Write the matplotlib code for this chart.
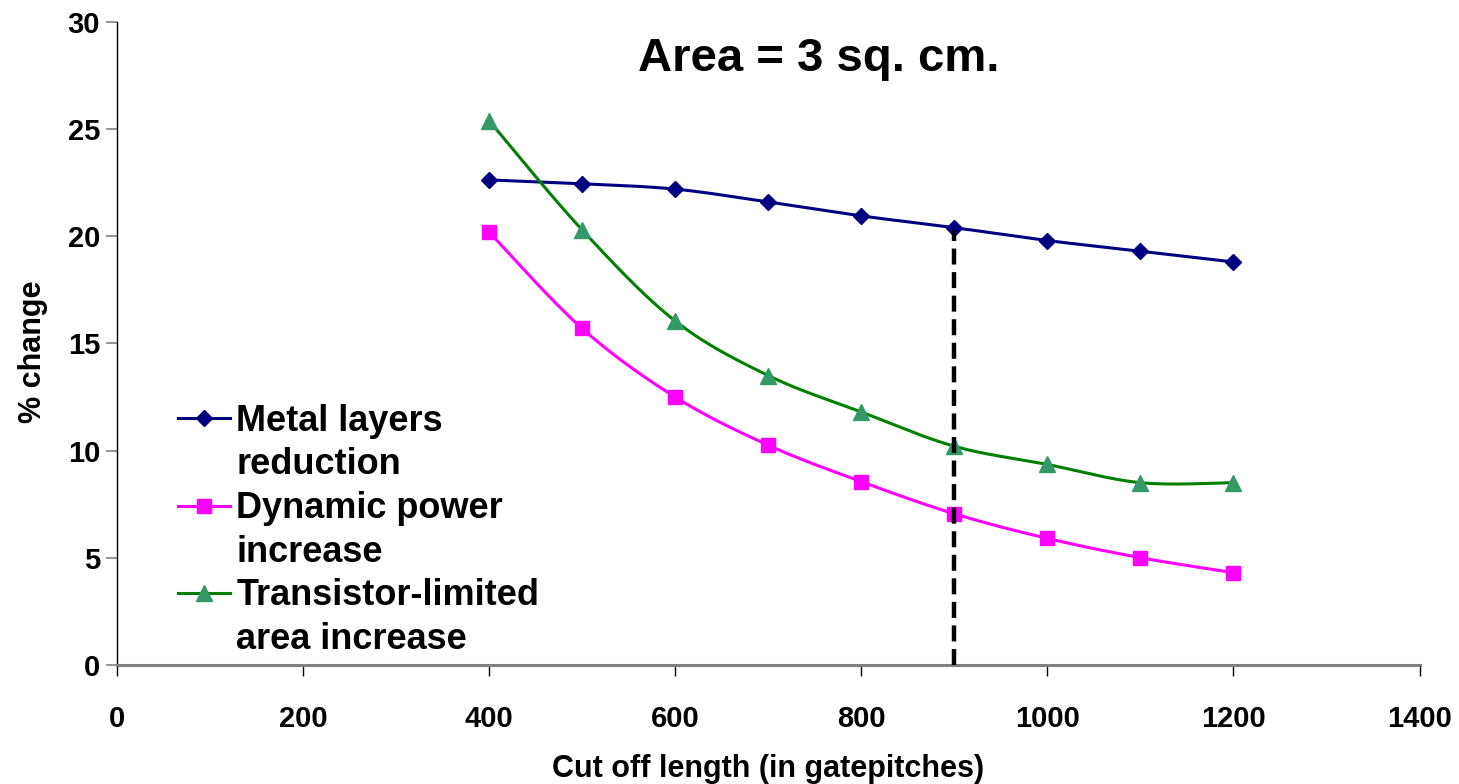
# coding:utf-8
# area = 3 sq. cm. : % change vs cut off length

import numpy as np
import matplotlib.pyplot as plt
from matplotlib.lines import Line2D

plt.rcParams['font.family'] = ['Liberation Sans', 'DejaVu Sans']
plt.rcParams['font.weight'] = 'bold'

cutoff = [400, 500, 600, 700, 800, 900, 1000, 1100, 1200]
metal = [22.63, 22.45, 22.2, 21.6, 20.95, 20.4, 19.8, 19.3, 18.8]
dynamic = [20.2, 15.7, 12.5, 10.25, 8.55, 7.05, 5.9, 5.0, 4.3]
transistor = [25.4, 20.3, 16.05, 13.5, 11.8, 10.2, 9.35, 8.5, 8.5]

cut_mark = 900
cut_top = 20.3

xticks = [0, 200, 400, 600, 800, 1000, 1200, 1400]
yticks = [0, 5, 10, 15, 20, 25, 30]


def smooth(xs, ys, n=30):
    # excel-like smoothed line (catmull-rom bezier)
    p = np.column_stack([xs, ys]).astype(float)
    p = np.vstack([p[0], p, p[-1]])
    out = []
    for i in range(1, len(p) - 2):
        p0, p1, p2, p3 = p[i-1], p[i], p[i+1], p[i+2]
        c1 = p1 + (p2 - p0) / 6.0
        c2 = p2 - (p3 - p1) / 6.0
        t = np.linspace(0, 1, n)[:, None]
        seg = (1-t)**3*p1 + 3*(1-t)**2*t*c1 + 3*(1-t)*t**2*c2 + t**3*p2
        out.append(seg if i == 1 else seg[1:])
    out = np.vstack(out)
    return out[:, 0], out[:, 1]


fig = plt.figure(figsize=(14.59, 7.84), dpi=100)
ax = fig.add_axes([0.080, 0.152, 0.893, 0.820])

series = [
    (metal, '#000080', '#000080', 'D', 8.0),
    (dynamic, '#FF00FF', '#FF00FF', 's', 10.5),
    (transistor, '#008000', '#339966', '^', 11.5),
]
for ys, lc, mc, mk, ms in series:
    sx, sy = smooth(cutoff, ys)
    ax.plot(sx, sy, color=lc, lw=2.2, zorder=3)
    ax.plot(cutoff, ys, ls='none', marker=mk, ms=ms, color=mc, zorder=4)

ax.plot([cut_mark, cut_mark], [0, cut_top], color='black', lw=3.2,
        dashes=(3.6, 1.7), zorder=5)

ax.set_xlim(0, 1400)
ax.set_ylim(0, 30)
ax.set_xticks(xticks)
ax.set_yticks(yticks)
for s in ['top', 'right']:
    ax.spines[s].set_visible(False)
ax.spines['bottom'].set_color('#808080')
ax.spines['bottom'].set_linewidth(2.2)
ax.spines['left'].set_linewidth(1.0)
ax.tick_params(axis='x', direction='out', length=8, width=1, colors='black',
               pad=21, labelsize=21)
ax.tick_params(axis='y', direction='out', length=8, width=1.2, color='#808080',
               labelcolor='black', pad=4, labelsize=21)

ax.set_xlabel('Cut off length (in gatepitches)', fontsize=22, fontweight='bold',
              labelpad=15)
ax.set_ylabel('% change', fontsize=22, fontweight='bold')
ax.yaxis.set_label_coords(-0.053, 0.487)
ax.text(754, 28.25, 'Area = 3 sq. cm.', fontsize=34, fontweight='bold',
        ha='center', va='center')

# legend, marker on first line of each label
blank = Line2D([], [], ls='none')
handles = [
    Line2D([], [], color='#000080', lw=2.2, marker='D', ms=8.0), blank,
    Line2D([], [], color='#FF00FF', lw=2.2, marker='s', ms=10.5), blank,
    Line2D([], [], color='#008000', lw=2.2, marker='^', ms=11.5,
           mfc='#339966', mec='#339966'), blank,
]
labels = ['Metal layers', 'reduction', 'Dynamic power', 'increase',
          'Transistor-limited', 'area increase']
ax.legend(handles, labels, loc='upper left', bbox_to_anchor=(0.047, 0.406),
          frameon=False, fontsize=26, handlelength=1.45, handletextpad=0.17,
          labelspacing=0.24, borderpad=0, borderaxespad=0)

fig.savefig('out.png', dpi=100)
